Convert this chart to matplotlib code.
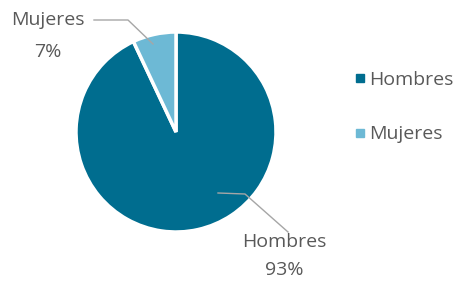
import matplotlib.pyplot as plt
from matplotlib.lines import Line2D

categories = ['Hombres', 'Mujeres']
values = [93, 7]
colors = ['#006D8F', '#6DB9D5']
pct_labels = ['93%', '7%']

plt.rcParams['font.family'] = ['Open Sans', 'DejaVu Sans']
text_color = '#595959'

W, H = 458, 282
fig = plt.figure(figsize=(W / 100, H / 100), dpi=100)

# pie: center (176,132) px, radius 100 px
ax = fig.add_axes([76 / W, (H - 232) / H, 200 / W, 200 / H])
ax.pie(values, colors=colors, startangle=90, counterclock=False,
       wedgeprops=dict(edgecolor='white', linewidth=2.5))
ax.set_xlim(-1, 1)
ax.set_ylim(-1, 1)
ax.axis('off')

# overlay axes in pixel coords for labels and leader lines
ov = fig.add_axes([0, 0, 1, 1])
ov.set_xlim(0, W)
ov.set_ylim(H, 0)
ov.axis('off')

ov.plot([94, 128, 153], [20, 20, 44], color='#A6A6A6', lw=1)
ov.text(48, 20, categories[1], ha='center', va='center', fontsize=14, color=text_color)
ov.text(48, 52, pct_labels[1], ha='center', va='center', fontsize=14, color=text_color)

ov.plot([218, 245, 288], [193, 194, 232], color='#A6A6A6', lw=1)
ov.text(284, 242, categories[0], ha='center', va='center', fontsize=14, color=text_color)
ov.text(284, 270, pct_labels[0], ha='center', va='center', fontsize=14, color=text_color)

handles = [Line2D([0], [0], marker='s', linestyle='none', markersize=6,
                  markerfacecolor=c, markeredgecolor=c) for c in colors]
fig.legend(handles, categories, loc='center left', bbox_to_anchor=(352 / W, 1 - 107 / H),
           frameon=False, fontsize=14, labelcolor=text_color, handletextpad=0.1,
           labelspacing=1.9, handlelength=0.8, borderaxespad=0, borderpad=0)

fig.savefig('out.png', dpi=100)
